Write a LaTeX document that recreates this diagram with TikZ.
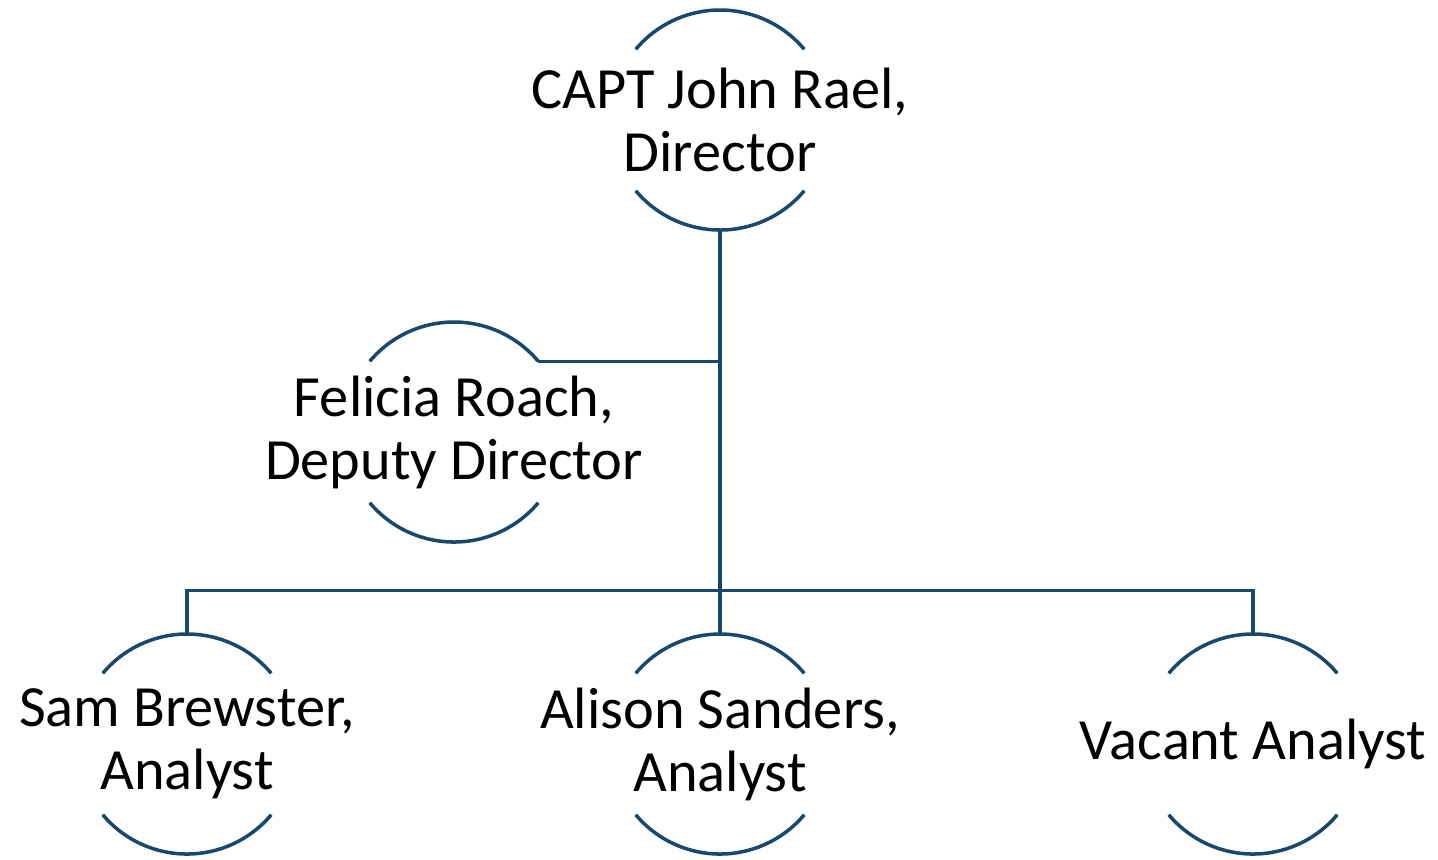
\documentclass[tikz,border=0pt]{standalone}
\usepackage{fontspec}
\setmainfont{Carlito}
\usetikzlibrary{positioning,calc}
\definecolor{orgblue}{RGB}{24,72,108}
\tikzset{
  member/.style={
    rectangle,
    minimum width=2.2cm,
    minimum height=2.2cm,
    inner sep=0pt,
    align=center,
    font=\fontsize{16.6}{17.9}\selectfont
    },
  link/.style={draw=orgblue, line width=1pt},
}

\begin{document}
\begin{tikzpicture}[node distance=5.33cm]
  \useasboundingbox (0,0) rectangle (14.38,-8.59);

  \node[member] (rael) at (7.20,-1.20) {CAPT John Rael,\\Director};
  \node[member] (roach) at (4.54,-4.32) {Felicia Roach,\\Deputy Director};
  \node[member] (sanders) at (7.20,-7.44) {Alison Sanders,\\Analyst};
  \node[member] (brewster) [left of=sanders] {Sam Brewster,\\Analyst};
  \node[member] (vacant) [right of=sanders] {Vacant Analyst};

  % arcs above and below each name
  \foreach \who in {rael,roach,brewster,sanders,vacant}{
    \draw[link] ($(\who.center)+(40:1.1)$) arc[start angle=40, end angle=140, radius=1.1cm];
    \draw[link] ($(\who.center)+(220:1.1)$) arc[start angle=220, end angle=320, radius=1.1cm];
  }

  \coordinate (bar) at ($(rael.south)+(0,-3.6)$);
  \coordinate (tie) at ($(roach.center)+(40:1.1)$);
  \draw[link] (rael.south) -- (bar);
  \draw[link] (tie) -- (tie -| rael.south);
  \draw[link] (brewster.north) |- (bar) -| (vacant.north);
  \draw[link] (bar) -- (sanders.north);
\end{tikzpicture}
\end{document}
